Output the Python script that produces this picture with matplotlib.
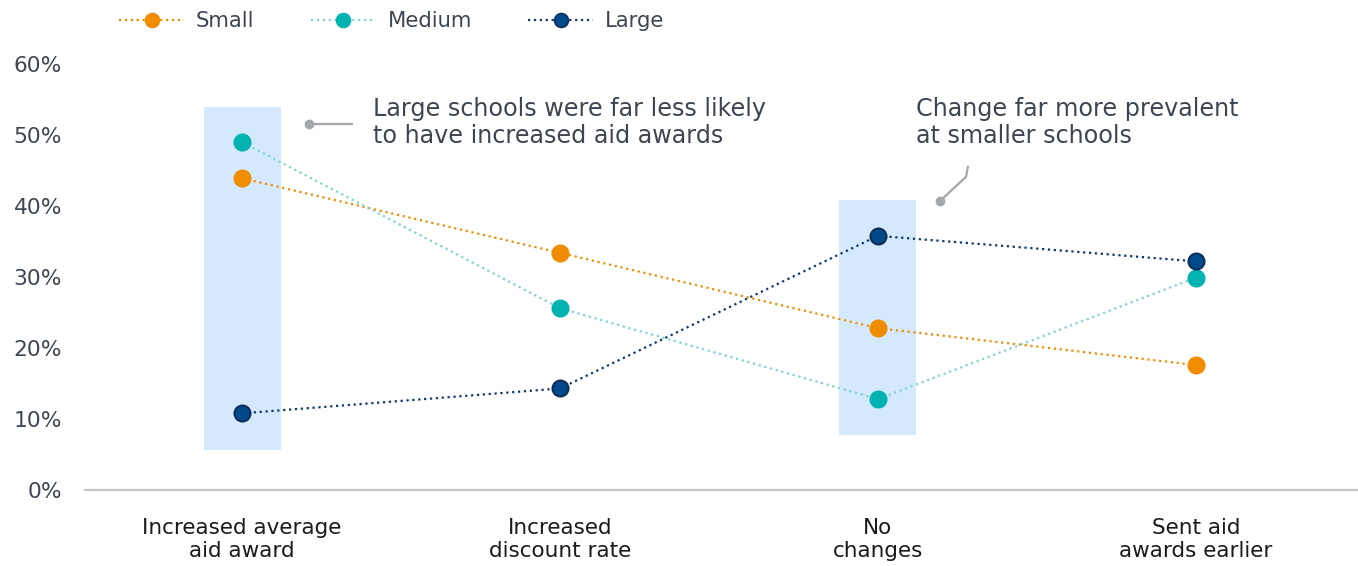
import matplotlib.pyplot as plt
from matplotlib.lines import Line2D
from matplotlib.ticker import FuncFormatter

categories = [
    "Increased average\naid award",
    "Increased\ndiscount rate",
    "No\nchanges",
    "Sent aid\nawards earlier",
]
small = [43.9, 33.4, 22.8, 17.6]
medium = [49.0, 25.6, 12.8, 29.9]
large = [10.8, 14.3, 35.8, 32.2]

# highlight spans (category index, low, high)
highlights = [(0, 5.6, 54.0), (2, 7.7, 40.8)]

note_left = "Large schools were far less likely\nto have increased aid awards"
note_right = "Change far more prevalent\nat smaller schools"

TEXT = "#3d4650"
LINE_GRAY = "#a3a7ab"

series = [
    ("Small", small, "#f08c00", "#f08c00", "#f08c00"),
    ("Medium", medium, "#7fd3d1", "#00b3b0", "#00b3b0"),
    ("Large", large, "#0d3868", "#00498a", "#0b2f58"),
]

fig = plt.figure(figsize=(13.58, 5.66), dpi=100)
ax = fig.add_axes([85 / 1358, 76 / 566, 1 - 85 / 1358, 426 / 566])

x = list(range(len(categories)))

for idx, lo, hi in highlights:
    ax.bar(idx, hi - lo, bottom=lo, width=0.242, color="#d4eafc", zorder=0)

handles = []
for name, values, lc, fc, ec in series:
    ax.plot(x, values, linestyle=":", linewidth=1.6, color=lc, zorder=2)
    ax.plot(x, values, linestyle="none", marker="o", markersize=11.5,
            markerfacecolor=fc, markeredgecolor=ec, markeredgewidth=1.5,
            zorder=3)
    handles.append(Line2D([], [], linestyle=":", linewidth=1.6, color=lc,
                          marker="o", markersize=10, markerfacecolor=fc,
                          markeredgecolor=ec, markeredgewidth=1.2, label=name))

# callout connectors
ax.plot([0.211, 0.346], [51.5, 51.5], color=LINE_GRAY, linewidth=1.6,
        zorder=2)
ax.plot([0.211], [51.5], "o", color=LINE_GRAY, markersize=6, zorder=2)
ax.plot([2.195, 2.277, 2.283], [40.7, 44.1, 45.5], color=LINE_GRAY,
        linewidth=1.6, zorder=2)
ax.plot([2.195], [40.7], "o", color=LINE_GRAY, markersize=6, zorder=2)

ax.text(0.412, 51.8, note_left, fontsize=17.2, color=TEXT, va="center",
        ha="left", linespacing=1.17)
ax.text(2.119, 51.8, note_right, fontsize=17.2, color=TEXT, va="center",
        ha="left", linespacing=1.17)

ax.set_xlim(-0.494, 3.51)
ax.set_ylim(0, 60)
ax.set_yticks(range(0, 61, 10))
ax.yaxis.set_major_formatter(FuncFormatter(lambda v, _: f"{v:.0f}%"))
ax.set_xticks(x)
ax.set_xticklabels(categories, fontsize=15.5, color="#1a1a1a",
                   linespacing=1.2)
ax.tick_params(axis="y", labelsize=15.7, labelcolor=TEXT, length=0, pad=16.5)
ax.tick_params(axis="x", length=0, pad=20)

for side in ("top", "right", "left"):
    ax.spines[side].set_visible(False)
ax.spines["bottom"].set_color("#c4c6c8")
ax.spines["bottom"].set_linewidth(1.6)

leg = fig.legend(handles=handles, loc="center left",
                 bbox_to_anchor=(119 / 1358, 1 - 21 / 566), ncol=3,
                 frameon=False, fontsize=15.2, handlelength=3.1,
                 handletextpad=0.55, columnspacing=2.65, borderpad=0,
                 borderaxespad=0)
for t in leg.get_texts():
    t.set_color(TEXT)

fig.savefig("out.png", dpi=100)
